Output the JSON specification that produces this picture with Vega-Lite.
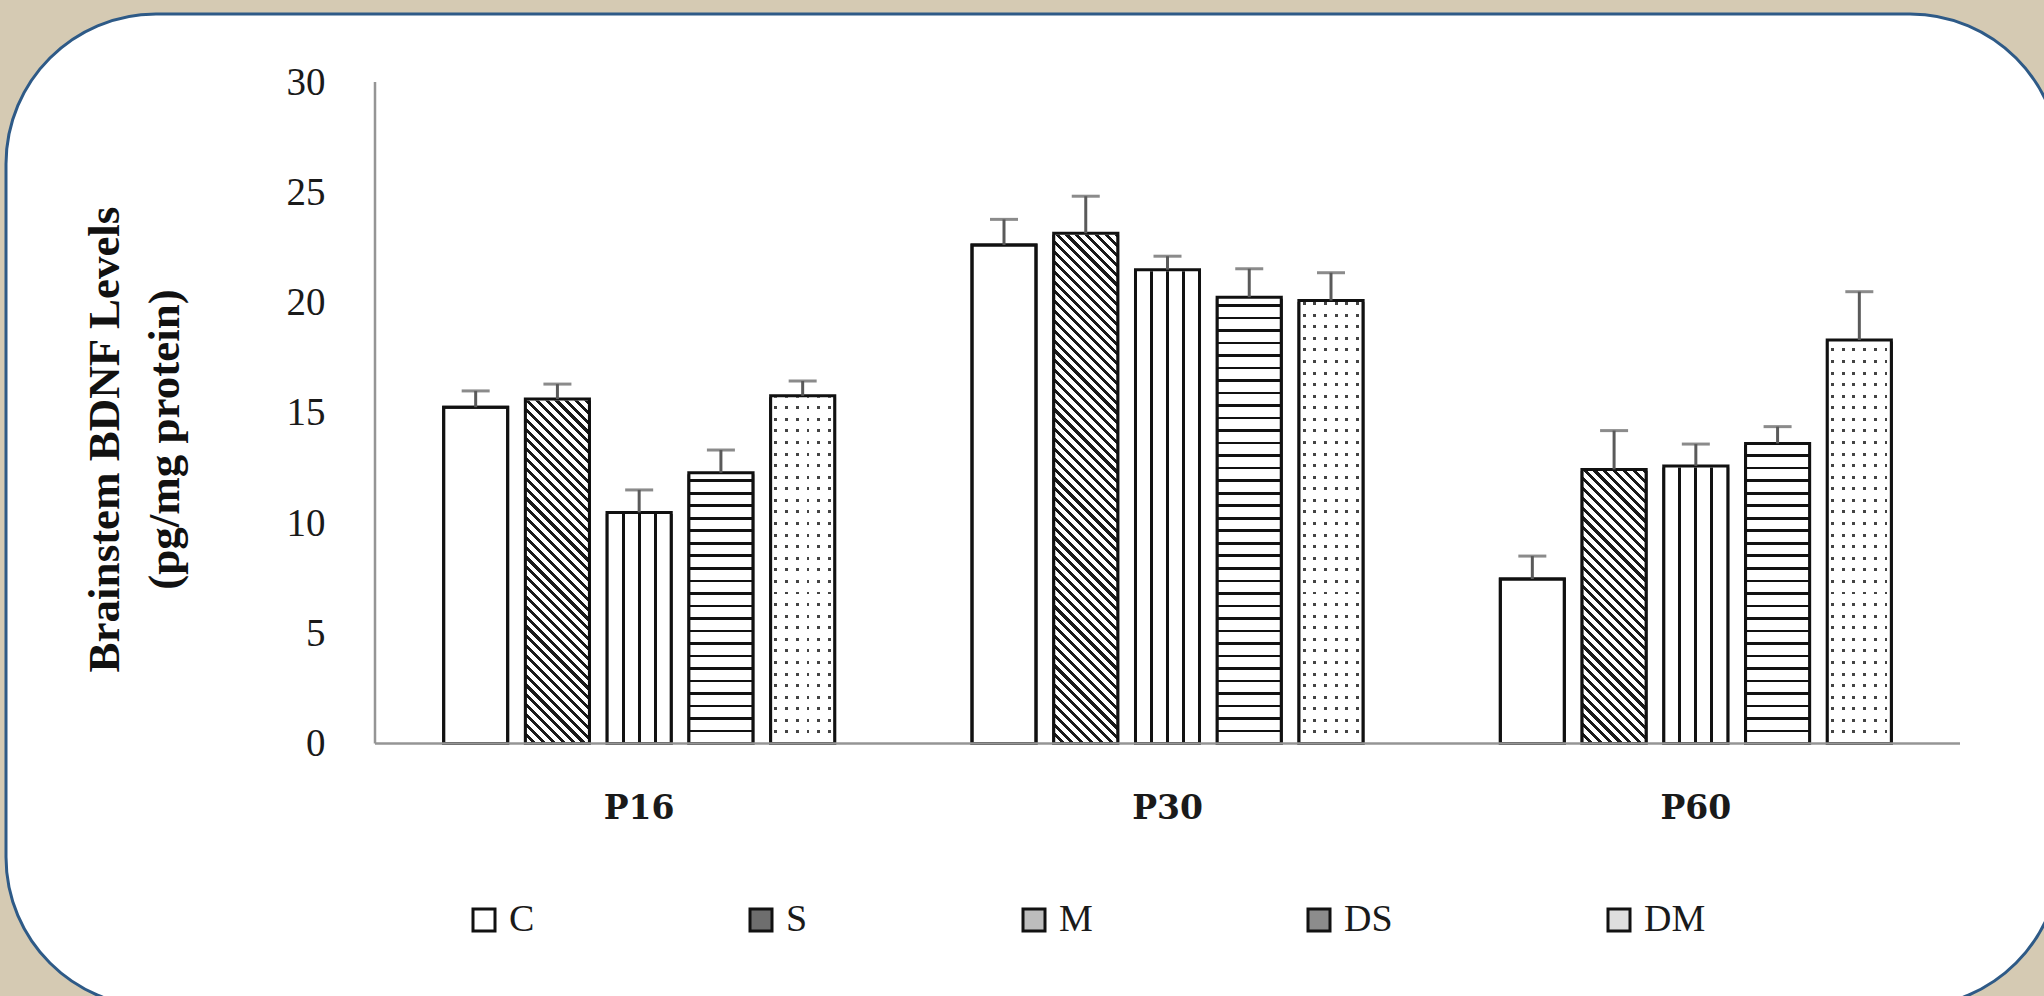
{
  "$schema": "https://vega.github.io/schema/vega-lite/v6.json",
  "width": 2054,
  "height": 993,
  "autosize": {"type": "none"},
  "padding": {"left": 6, "top": 14, "right": -16, "bottom": -11},
  "background": "#d5cab3",
  "config": {
    "view": {"fill": "#ffffff", "stroke": "#2e5a87", "strokeWidth": 3, "cornerRadius": 150},
    "axis": {"grid": false, "ticks": false, "domain": false}
  },
  "data": {"values": [
    {"group": "P16", "series": "C", "value": 15.25, "upper": 15.99},
    {"group": "P16", "series": "S", "value": 15.62, "upper": 16.30},
    {"group": "P16", "series": "M", "value": 10.48, "upper": 11.50},
    {"group": "P16", "series": "DS", "value": 12.28, "upper": 13.31},
    {"group": "P16", "series": "DM", "value": 15.77, "upper": 16.44},
    {"group": "P30", "series": "C", "value": 22.61, "upper": 23.77},
    {"group": "P30", "series": "S", "value": 23.14, "upper": 24.82},
    {"group": "P30", "series": "M", "value": 21.49, "upper": 22.10},
    {"group": "P30", "series": "DS", "value": 20.24, "upper": 21.53},
    {"group": "P30", "series": "DM", "value": 20.09, "upper": 21.35},
    {"group": "P60", "series": "C", "value": 7.46, "upper": 8.50},
    {"group": "P60", "series": "S", "value": 12.43, "upper": 14.19},
    {"group": "P60", "series": "M", "value": 12.59, "upper": 13.58},
    {"group": "P60", "series": "DS", "value": 13.61, "upper": 14.37},
    {"group": "P60", "series": "DM", "value": 18.30, "upper": 20.49}
  ]},
  "layer": [
    {
      "mark": {"type": "bar", "stroke": "#111111", "strokeWidth": 3},
      "encoding": {
        "x": {"field": "group", "type": "nominal",
          "scale": {"paddingInner": 0, "paddingOuter": 0.44385, "align": 0.78678},
          "axis": {"orient": "bottom", "offset": -263.5, "title": null, "labelAngle": 0,
            "labelFont": "DejaVu Serif", "labelFontWeight": "bold", "labelFontSize": 33,
            "labelColor": "#1a1a1a", "labelBaseline": "alphabetic", "labelPadding": 74.5}},
        "xOffset": {"field": "series", "type": "nominal",
          "scale": {"domain": ["C", "S", "M", "DS", "DM"], "paddingInner": 0.217, "paddingOuter": 0.84}},
        "y": {"field": "value", "type": "quantitative",
          "scale": {"domain": [-11.95, 33.084], "nice": false, "zero": false},
          "axis": {"orient": "left", "offset": -369, "values": [0, 5, 10, 15, 20, 25, 30],
            "labelFont": "Liberation Serif", "labelFontSize": 39, "labelColor": "#1a1a1a", "labelPadding": 50,
            "title": ["Brainstem BDNF Levels", "(pg/mg protein)"],
            "titleFont": "Liberation Serif", "titleFontWeight": "bold", "titleFontSize": 45,
            "titleLineHeight": 60, "titleColor": "#111111", "titleX": -257, "titleY": 425,
            "titleAngle": -90, "titleBaseline": "alphabetic", "titleAlign": "center"}},
        "y2": {"datum": 0},
        "fill": {"field": "series", "type": "nominal",
          "scale": {"domain": ["C", "S", "M", "DS", "DM"], "range": ["#ffffff", "#6e6e6e", "#bdbdbd", "#8c8c8c", "#dedede"]},
          "legend": {"orient": "none", "legendX": 459, "legendY": 887, "direction": "horizontal", "columns": 5,
            "title": null, "padding": 0, "symbolType": "square", "symbolSize": 484,
            "symbolStrokeColor": "#111111", "symbolStrokeWidth": 3,
            "labelFont": "Liberation Serif", "labelFontSize": 38, "labelColor": "#1a1a1a",
            "labelOffset": 6, "columnPadding": 207}}
      }
    },
    {
      "transform": [{"filter": "datum.series === 'S'"}],
      "mark": {"type": "bar", "fill": {"gradient": "linear", "x1": 0, "y1": 1, "x2": 0.133, "y2": -0.1, "stops": [
        {"offset":0,"color":"#fff"},
        {"offset":0.0132,"color":"#fff"},{"offset":0.0132,"color":"#1a1a1a"},{"offset":0.0202,"color":"#1a1a1a"},{"offset":0.0202,"color":"#fff"},
        {"offset":0.0298,"color":"#fff"},{"offset":0.0298,"color":"#1a1a1a"},{"offset":0.0368,"color":"#1a1a1a"},{"offset":0.0368,"color":"#fff"},
        {"offset":0.0465,"color":"#fff"},{"offset":0.0465,"color":"#1a1a1a"},{"offset":0.0535,"color":"#1a1a1a"},{"offset":0.0535,"color":"#fff"},
        {"offset":0.0632,"color":"#fff"},{"offset":0.0632,"color":"#1a1a1a"},{"offset":0.0702,"color":"#1a1a1a"},{"offset":0.0702,"color":"#fff"},
        {"offset":0.0798,"color":"#fff"},{"offset":0.0798,"color":"#1a1a1a"},{"offset":0.0868,"color":"#1a1a1a"},{"offset":0.0868,"color":"#fff"},
        {"offset":0.0965,"color":"#fff"},{"offset":0.0965,"color":"#1a1a1a"},{"offset":0.1035,"color":"#1a1a1a"},{"offset":0.1035,"color":"#fff"},
        {"offset":0.1132,"color":"#fff"},{"offset":0.1132,"color":"#1a1a1a"},{"offset":0.1202,"color":"#1a1a1a"},{"offset":0.1202,"color":"#fff"},
        {"offset":0.1298,"color":"#fff"},{"offset":0.1298,"color":"#1a1a1a"},{"offset":0.1368,"color":"#1a1a1a"},{"offset":0.1368,"color":"#fff"},
        {"offset":0.1465,"color":"#fff"},{"offset":0.1465,"color":"#1a1a1a"},{"offset":0.1535,"color":"#1a1a1a"},{"offset":0.1535,"color":"#fff"},
        {"offset":0.1632,"color":"#fff"},{"offset":0.1632,"color":"#1a1a1a"},{"offset":0.1702,"color":"#1a1a1a"},{"offset":0.1702,"color":"#fff"},
        {"offset":0.1798,"color":"#fff"},{"offset":0.1798,"color":"#1a1a1a"},{"offset":0.1868,"color":"#1a1a1a"},{"offset":0.1868,"color":"#fff"},
        {"offset":0.1965,"color":"#fff"},{"offset":0.1965,"color":"#1a1a1a"},{"offset":0.2035,"color":"#1a1a1a"},{"offset":0.2035,"color":"#fff"},
        {"offset":0.2132,"color":"#fff"},{"offset":0.2132,"color":"#1a1a1a"},{"offset":0.2202,"color":"#1a1a1a"},{"offset":0.2202,"color":"#fff"},
        {"offset":0.2298,"color":"#fff"},{"offset":0.2298,"color":"#1a1a1a"},{"offset":0.2368,"color":"#1a1a1a"},{"offset":0.2368,"color":"#fff"},
        {"offset":0.2465,"color":"#fff"},{"offset":0.2465,"color":"#1a1a1a"},{"offset":0.2535,"color":"#1a1a1a"},{"offset":0.2535,"color":"#fff"},
        {"offset":0.2632,"color":"#fff"},{"offset":0.2632,"color":"#1a1a1a"},{"offset":0.2702,"color":"#1a1a1a"},{"offset":0.2702,"color":"#fff"},
        {"offset":0.2798,"color":"#fff"},{"offset":0.2798,"color":"#1a1a1a"},{"offset":0.2868,"color":"#1a1a1a"},{"offset":0.2868,"color":"#fff"},
        {"offset":0.2965,"color":"#fff"},{"offset":0.2965,"color":"#1a1a1a"},{"offset":0.3035,"color":"#1a1a1a"},{"offset":0.3035,"color":"#fff"},
        {"offset":0.3132,"color":"#fff"},{"offset":0.3132,"color":"#1a1a1a"},{"offset":0.3202,"color":"#1a1a1a"},{"offset":0.3202,"color":"#fff"},
        {"offset":0.3298,"color":"#fff"},{"offset":0.3298,"color":"#1a1a1a"},{"offset":0.3368,"color":"#1a1a1a"},{"offset":0.3368,"color":"#fff"},
        {"offset":0.3465,"color":"#fff"},{"offset":0.3465,"color":"#1a1a1a"},{"offset":0.3535,"color":"#1a1a1a"},{"offset":0.3535,"color":"#fff"},
        {"offset":0.3632,"color":"#fff"},{"offset":0.3632,"color":"#1a1a1a"},{"offset":0.3702,"color":"#1a1a1a"},{"offset":0.3702,"color":"#fff"},
        {"offset":0.3798,"color":"#fff"},{"offset":0.3798,"color":"#1a1a1a"},{"offset":0.3868,"color":"#1a1a1a"},{"offset":0.3868,"color":"#fff"},
        {"offset":0.3965,"color":"#fff"},{"offset":0.3965,"color":"#1a1a1a"},{"offset":0.4035,"color":"#1a1a1a"},{"offset":0.4035,"color":"#fff"},
        {"offset":0.4132,"color":"#fff"},{"offset":0.4132,"color":"#1a1a1a"},{"offset":0.4202,"color":"#1a1a1a"},{"offset":0.4202,"color":"#fff"},
        {"offset":0.4298,"color":"#fff"},{"offset":0.4298,"color":"#1a1a1a"},{"offset":0.4368,"color":"#1a1a1a"},{"offset":0.4368,"color":"#fff"},
        {"offset":0.4465,"color":"#fff"},{"offset":0.4465,"color":"#1a1a1a"},{"offset":0.4535,"color":"#1a1a1a"},{"offset":0.4535,"color":"#fff"},
        {"offset":0.4632,"color":"#fff"},{"offset":0.4632,"color":"#1a1a1a"},{"offset":0.4702,"color":"#1a1a1a"},{"offset":0.4702,"color":"#fff"},
        {"offset":0.4798,"color":"#fff"},{"offset":0.4798,"color":"#1a1a1a"},{"offset":0.4868,"color":"#1a1a1a"},{"offset":0.4868,"color":"#fff"},
        {"offset":0.4965,"color":"#fff"},{"offset":0.4965,"color":"#1a1a1a"},{"offset":0.5035,"color":"#1a1a1a"},{"offset":0.5035,"color":"#fff"},
        {"offset":0.5132,"color":"#fff"},{"offset":0.5132,"color":"#1a1a1a"},{"offset":0.5202,"color":"#1a1a1a"},{"offset":0.5202,"color":"#fff"},
        {"offset":0.5298,"color":"#fff"},{"offset":0.5298,"color":"#1a1a1a"},{"offset":0.5368,"color":"#1a1a1a"},{"offset":0.5368,"color":"#fff"},
        {"offset":0.5465,"color":"#fff"},{"offset":0.5465,"color":"#1a1a1a"},{"offset":0.5535,"color":"#1a1a1a"},{"offset":0.5535,"color":"#fff"},
        {"offset":0.5632,"color":"#fff"},{"offset":0.5632,"color":"#1a1a1a"},{"offset":0.5702,"color":"#1a1a1a"},{"offset":0.5702,"color":"#fff"},
        {"offset":0.5798,"color":"#fff"},{"offset":0.5798,"color":"#1a1a1a"},{"offset":0.5868,"color":"#1a1a1a"},{"offset":0.5868,"color":"#fff"},
        {"offset":0.5965,"color":"#fff"},{"offset":0.5965,"color":"#1a1a1a"},{"offset":0.6035,"color":"#1a1a1a"},{"offset":0.6035,"color":"#fff"},
        {"offset":0.6132,"color":"#fff"},{"offset":0.6132,"color":"#1a1a1a"},{"offset":0.6202,"color":"#1a1a1a"},{"offset":0.6202,"color":"#fff"},
        {"offset":0.6298,"color":"#fff"},{"offset":0.6298,"color":"#1a1a1a"},{"offset":0.6368,"color":"#1a1a1a"},{"offset":0.6368,"color":"#fff"},
        {"offset":0.6465,"color":"#fff"},{"offset":0.6465,"color":"#1a1a1a"},{"offset":0.6535,"color":"#1a1a1a"},{"offset":0.6535,"color":"#fff"},
        {"offset":0.6632,"color":"#fff"},{"offset":0.6632,"color":"#1a1a1a"},{"offset":0.6702,"color":"#1a1a1a"},{"offset":0.6702,"color":"#fff"},
        {"offset":0.6798,"color":"#fff"},{"offset":0.6798,"color":"#1a1a1a"},{"offset":0.6868,"color":"#1a1a1a"},{"offset":0.6868,"color":"#fff"},
        {"offset":0.6965,"color":"#fff"},{"offset":0.6965,"color":"#1a1a1a"},{"offset":0.7035,"color":"#1a1a1a"},{"offset":0.7035,"color":"#fff"},
        {"offset":0.7132,"color":"#fff"},{"offset":0.7132,"color":"#1a1a1a"},{"offset":0.7202,"color":"#1a1a1a"},{"offset":0.7202,"color":"#fff"},
        {"offset":0.7298,"color":"#fff"},{"offset":0.7298,"color":"#1a1a1a"},{"offset":0.7368,"color":"#1a1a1a"},{"offset":0.7368,"color":"#fff"},
        {"offset":0.7465,"color":"#fff"},{"offset":0.7465,"color":"#1a1a1a"},{"offset":0.7535,"color":"#1a1a1a"},{"offset":0.7535,"color":"#fff"},
        {"offset":0.7632,"color":"#fff"},{"offset":0.7632,"color":"#1a1a1a"},{"offset":0.7702,"color":"#1a1a1a"},{"offset":0.7702,"color":"#fff"},
        {"offset":0.7798,"color":"#fff"},{"offset":0.7798,"color":"#1a1a1a"},{"offset":0.7868,"color":"#1a1a1a"},{"offset":0.7868,"color":"#fff"},
        {"offset":0.7965,"color":"#fff"},{"offset":0.7965,"color":"#1a1a1a"},{"offset":0.8035,"color":"#1a1a1a"},{"offset":0.8035,"color":"#fff"},
        {"offset":0.8132,"color":"#fff"},{"offset":0.8132,"color":"#1a1a1a"},{"offset":0.8202,"color":"#1a1a1a"},{"offset":0.8202,"color":"#fff"},
        {"offset":0.8298,"color":"#fff"},{"offset":0.8298,"color":"#1a1a1a"},{"offset":0.8368,"color":"#1a1a1a"},{"offset":0.8368,"color":"#fff"},
        {"offset":0.8465,"color":"#fff"},{"offset":0.8465,"color":"#1a1a1a"},{"offset":0.8535,"color":"#1a1a1a"},{"offset":0.8535,"color":"#fff"},
        {"offset":0.8632,"color":"#fff"},{"offset":0.8632,"color":"#1a1a1a"},{"offset":0.8702,"color":"#1a1a1a"},{"offset":0.8702,"color":"#fff"},
        {"offset":0.8798,"color":"#fff"},{"offset":0.8798,"color":"#1a1a1a"},{"offset":0.8868,"color":"#1a1a1a"},{"offset":0.8868,"color":"#fff"},
        {"offset":0.8965,"color":"#fff"},{"offset":0.8965,"color":"#1a1a1a"},{"offset":0.9035,"color":"#1a1a1a"},{"offset":0.9035,"color":"#fff"},
        {"offset":0.9132,"color":"#fff"},{"offset":0.9132,"color":"#1a1a1a"},{"offset":0.9202,"color":"#1a1a1a"},{"offset":0.9202,"color":"#fff"},
        {"offset":0.9298,"color":"#fff"},{"offset":0.9298,"color":"#1a1a1a"},{"offset":0.9368,"color":"#1a1a1a"},{"offset":0.9368,"color":"#fff"},
        {"offset":0.9465,"color":"#fff"},{"offset":0.9465,"color":"#1a1a1a"},{"offset":0.9535,"color":"#1a1a1a"},{"offset":0.9535,"color":"#fff"},
        {"offset":0.9632,"color":"#fff"},{"offset":0.9632,"color":"#1a1a1a"},{"offset":0.9702,"color":"#1a1a1a"},{"offset":0.9702,"color":"#fff"},
        {"offset":0.9798,"color":"#fff"},{"offset":0.9798,"color":"#1a1a1a"},{"offset":0.9868,"color":"#1a1a1a"},{"offset":0.9868,"color":"#fff"},
        {"offset":1,"color":"#fff"}
      ]}},
      "encoding": {
        "x": {"field": "group", "type": "nominal"},
        "xOffset": {"field": "series", "type": "nominal", "scale": {"domain": ["C", "S", "M", "DS", "DM"]}},
        "y": {"datum": 24, "type": "quantitative"},
        "y2": {"datum": 0}
      }
    },
    {
      "transform": [{"filter": "datum.series === 'M'"}],
      "mark": {"type": "bar", "fill": {"gradient": "linear", "x1": 0, "y1": 0, "x2": 1, "y2": 0, "stops": [
        {"offset":0,"color":"#fff"},
        {"offset":0.228,"color":"#fff"},{"offset":0.228,"color":"#111"},{"offset":0.272,"color":"#111"},{"offset":0.272,"color":"#fff"},
        {"offset":0.478,"color":"#fff"},{"offset":0.478,"color":"#111"},{"offset":0.522,"color":"#111"},{"offset":0.522,"color":"#fff"},
        {"offset":0.728,"color":"#fff"},{"offset":0.728,"color":"#111"},{"offset":0.772,"color":"#111"},{"offset":0.772,"color":"#fff"},
        {"offset":1,"color":"#fff"}
      ]}},
      "encoding": {
        "x": {"field": "group", "type": "nominal"},
        "xOffset": {"field": "series", "type": "nominal", "scale": {"domain": ["C", "S", "M", "DS", "DM"]}},
        "y": {"datum": 24, "type": "quantitative"},
        "y2": {"datum": 0}
      }
    },
    {
      "transform": [{"filter": "datum.series === 'DS'"}],
      "mark": {"type": "bar", "fill": {"gradient": "linear", "x1": 0, "y1": 0, "x2": 0, "y2": 1, "stops": [
        {"offset":0,"color":"#fff"},
        {"offset":0.0242,"color":"#fff"},{"offset":0.0242,"color":"#111"},{"offset":0.0298,"color":"#111"},{"offset":0.0298,"color":"#fff"},
        {"offset":0.0513,"color":"#fff"},{"offset":0.0513,"color":"#111"},{"offset":0.0569,"color":"#111"},{"offset":0.0569,"color":"#fff"},
        {"offset":0.0783,"color":"#fff"},{"offset":0.0783,"color":"#111"},{"offset":0.0839,"color":"#111"},{"offset":0.0839,"color":"#fff"},
        {"offset":0.1053,"color":"#fff"},{"offset":0.1053,"color":"#111"},{"offset":0.1109,"color":"#111"},{"offset":0.1109,"color":"#fff"},
        {"offset":0.1323,"color":"#fff"},{"offset":0.1323,"color":"#111"},{"offset":0.1379,"color":"#111"},{"offset":0.1379,"color":"#fff"},
        {"offset":0.1594,"color":"#fff"},{"offset":0.1594,"color":"#111"},{"offset":0.1650,"color":"#111"},{"offset":0.1650,"color":"#fff"},
        {"offset":0.1864,"color":"#fff"},{"offset":0.1864,"color":"#111"},{"offset":0.1920,"color":"#111"},{"offset":0.1920,"color":"#fff"},
        {"offset":0.2134,"color":"#fff"},{"offset":0.2134,"color":"#111"},{"offset":0.2190,"color":"#111"},{"offset":0.2190,"color":"#fff"},
        {"offset":0.2404,"color":"#fff"},{"offset":0.2404,"color":"#111"},{"offset":0.2460,"color":"#111"},{"offset":0.2460,"color":"#fff"},
        {"offset":0.2675,"color":"#fff"},{"offset":0.2675,"color":"#111"},{"offset":0.2731,"color":"#111"},{"offset":0.2731,"color":"#fff"},
        {"offset":0.2945,"color":"#fff"},{"offset":0.2945,"color":"#111"},{"offset":0.3001,"color":"#111"},{"offset":0.3001,"color":"#fff"},
        {"offset":0.3215,"color":"#fff"},{"offset":0.3215,"color":"#111"},{"offset":0.3271,"color":"#111"},{"offset":0.3271,"color":"#fff"},
        {"offset":0.3486,"color":"#fff"},{"offset":0.3486,"color":"#111"},{"offset":0.3542,"color":"#111"},{"offset":0.3542,"color":"#fff"},
        {"offset":0.3756,"color":"#fff"},{"offset":0.3756,"color":"#111"},{"offset":0.3812,"color":"#111"},{"offset":0.3812,"color":"#fff"},
        {"offset":0.4026,"color":"#fff"},{"offset":0.4026,"color":"#111"},{"offset":0.4082,"color":"#111"},{"offset":0.4082,"color":"#fff"},
        {"offset":0.4296,"color":"#fff"},{"offset":0.4296,"color":"#111"},{"offset":0.4352,"color":"#111"},{"offset":0.4352,"color":"#fff"},
        {"offset":0.4567,"color":"#fff"},{"offset":0.4567,"color":"#111"},{"offset":0.4623,"color":"#111"},{"offset":0.4623,"color":"#fff"},
        {"offset":0.4837,"color":"#fff"},{"offset":0.4837,"color":"#111"},{"offset":0.4893,"color":"#111"},{"offset":0.4893,"color":"#fff"},
        {"offset":0.5107,"color":"#fff"},{"offset":0.5107,"color":"#111"},{"offset":0.5163,"color":"#111"},{"offset":0.5163,"color":"#fff"},
        {"offset":0.5377,"color":"#fff"},{"offset":0.5377,"color":"#111"},{"offset":0.5433,"color":"#111"},{"offset":0.5433,"color":"#fff"},
        {"offset":0.5648,"color":"#fff"},{"offset":0.5648,"color":"#111"},{"offset":0.5704,"color":"#111"},{"offset":0.5704,"color":"#fff"},
        {"offset":0.5918,"color":"#fff"},{"offset":0.5918,"color":"#111"},{"offset":0.5974,"color":"#111"},{"offset":0.5974,"color":"#fff"},
        {"offset":0.6188,"color":"#fff"},{"offset":0.6188,"color":"#111"},{"offset":0.6244,"color":"#111"},{"offset":0.6244,"color":"#fff"},
        {"offset":0.6459,"color":"#fff"},{"offset":0.6459,"color":"#111"},{"offset":0.6515,"color":"#111"},{"offset":0.6515,"color":"#fff"},
        {"offset":0.6729,"color":"#fff"},{"offset":0.6729,"color":"#111"},{"offset":0.6785,"color":"#111"},{"offset":0.6785,"color":"#fff"},
        {"offset":0.6999,"color":"#fff"},{"offset":0.6999,"color":"#111"},{"offset":0.7055,"color":"#111"},{"offset":0.7055,"color":"#fff"},
        {"offset":0.7269,"color":"#fff"},{"offset":0.7269,"color":"#111"},{"offset":0.7325,"color":"#111"},{"offset":0.7325,"color":"#fff"},
        {"offset":0.7540,"color":"#fff"},{"offset":0.7540,"color":"#111"},{"offset":0.7596,"color":"#111"},{"offset":0.7596,"color":"#fff"},
        {"offset":0.7810,"color":"#fff"},{"offset":0.7810,"color":"#111"},{"offset":0.7866,"color":"#111"},{"offset":0.7866,"color":"#fff"},
        {"offset":0.8080,"color":"#fff"},{"offset":0.8080,"color":"#111"},{"offset":0.8136,"color":"#111"},{"offset":0.8136,"color":"#fff"},
        {"offset":0.8350,"color":"#fff"},{"offset":0.8350,"color":"#111"},{"offset":0.8406,"color":"#111"},{"offset":0.8406,"color":"#fff"},
        {"offset":0.8621,"color":"#fff"},{"offset":0.8621,"color":"#111"},{"offset":0.8677,"color":"#111"},{"offset":0.8677,"color":"#fff"},
        {"offset":0.8891,"color":"#fff"},{"offset":0.8891,"color":"#111"},{"offset":0.8947,"color":"#111"},{"offset":0.8947,"color":"#fff"},
        {"offset":0.9161,"color":"#fff"},{"offset":0.9161,"color":"#111"},{"offset":0.9217,"color":"#111"},{"offset":0.9217,"color":"#fff"},
        {"offset":0.9432,"color":"#fff"},{"offset":0.9432,"color":"#111"},{"offset":0.9488,"color":"#111"},{"offset":0.9488,"color":"#fff"},
        {"offset":0.9702,"color":"#fff"},{"offset":0.9702,"color":"#111"},{"offset":0.9758,"color":"#111"},{"offset":0.9758,"color":"#fff"},
        {"offset":1,"color":"#fff"}
      ]}},
      "encoding": {
        "x": {"field": "group", "type": "nominal"},
        "xOffset": {"field": "series", "type": "nominal", "scale": {"domain": ["C", "S", "M", "DS", "DM"]}},
        "y": {"datum": 21, "type": "quantitative"},
        "y2": {"datum": 0}
      }
    },
    {
      "transform": [{"filter": "datum.series === 'DM'"}],
      "mark": {"type": "bar", "fill": {"gradient": "linear", "x1": 0, "y1": 0, "x2": 0, "y2": 1, "stops": [
        {"offset":0,"color":"#fff"},
        {"offset":0.0218,"color":"#fff"},{"offset":0.0218,"color":"#444"},{"offset":0.0282,"color":"#444"},{"offset":0.0282,"color":"#fff"},
        {"offset":0.0468,"color":"#fff"},{"offset":0.0468,"color":"#444"},{"offset":0.0532,"color":"#444"},{"offset":0.0532,"color":"#fff"},
        {"offset":0.0718,"color":"#fff"},{"offset":0.0718,"color":"#444"},{"offset":0.0782,"color":"#444"},{"offset":0.0782,"color":"#fff"},
        {"offset":0.0968,"color":"#fff"},{"offset":0.0968,"color":"#444"},{"offset":0.1032,"color":"#444"},{"offset":0.1032,"color":"#fff"},
        {"offset":0.1218,"color":"#fff"},{"offset":0.1218,"color":"#444"},{"offset":0.1282,"color":"#444"},{"offset":0.1282,"color":"#fff"},
        {"offset":0.1468,"color":"#fff"},{"offset":0.1468,"color":"#444"},{"offset":0.1532,"color":"#444"},{"offset":0.1532,"color":"#fff"},
        {"offset":0.1718,"color":"#fff"},{"offset":0.1718,"color":"#444"},{"offset":0.1782,"color":"#444"},{"offset":0.1782,"color":"#fff"},
        {"offset":0.1968,"color":"#fff"},{"offset":0.1968,"color":"#444"},{"offset":0.2032,"color":"#444"},{"offset":0.2032,"color":"#fff"},
        {"offset":0.2218,"color":"#fff"},{"offset":0.2218,"color":"#444"},{"offset":0.2282,"color":"#444"},{"offset":0.2282,"color":"#fff"},
        {"offset":0.2468,"color":"#fff"},{"offset":0.2468,"color":"#444"},{"offset":0.2532,"color":"#444"},{"offset":0.2532,"color":"#fff"},
        {"offset":0.2718,"color":"#fff"},{"offset":0.2718,"color":"#444"},{"offset":0.2782,"color":"#444"},{"offset":0.2782,"color":"#fff"},
        {"offset":0.2968,"color":"#fff"},{"offset":0.2968,"color":"#444"},{"offset":0.3032,"color":"#444"},{"offset":0.3032,"color":"#fff"},
        {"offset":0.3218,"color":"#fff"},{"offset":0.3218,"color":"#444"},{"offset":0.3282,"color":"#444"},{"offset":0.3282,"color":"#fff"},
        {"offset":0.3468,"color":"#fff"},{"offset":0.3468,"color":"#444"},{"offset":0.3532,"color":"#444"},{"offset":0.3532,"color":"#fff"},
        {"offset":0.3718,"color":"#fff"},{"offset":0.3718,"color":"#444"},{"offset":0.3782,"color":"#444"},{"offset":0.3782,"color":"#fff"},
        {"offset":0.3968,"color":"#fff"},{"offset":0.3968,"color":"#444"},{"offset":0.4032,"color":"#444"},{"offset":0.4032,"color":"#fff"},
        {"offset":0.4218,"color":"#fff"},{"offset":0.4218,"color":"#444"},{"offset":0.4282,"color":"#444"},{"offset":0.4282,"color":"#fff"},
        {"offset":0.4468,"color":"#fff"},{"offset":0.4468,"color":"#444"},{"offset":0.4532,"color":"#444"},{"offset":0.4532,"color":"#fff"},
        {"offset":0.4718,"color":"#fff"},{"offset":0.4718,"color":"#444"},{"offset":0.4782,"color":"#444"},{"offset":0.4782,"color":"#fff"},
        {"offset":0.4968,"color":"#fff"},{"offset":0.4968,"color":"#444"},{"offset":0.5032,"color":"#444"},{"offset":0.5032,"color":"#fff"},
        {"offset":0.5218,"color":"#fff"},{"offset":0.5218,"color":"#444"},{"offset":0.5282,"color":"#444"},{"offset":0.5282,"color":"#fff"},
        {"offset":0.5468,"color":"#fff"},{"offset":0.5468,"color":"#444"},{"offset":0.5532,"color":"#444"},{"offset":0.5532,"color":"#fff"},
        {"offset":0.5718,"color":"#fff"},{"offset":0.5718,"color":"#444"},{"offset":0.5782,"color":"#444"},{"offset":0.5782,"color":"#fff"},
        {"offset":0.5968,"color":"#fff"},{"offset":0.5968,"color":"#444"},{"offset":0.6032,"color":"#444"},{"offset":0.6032,"color":"#fff"},
        {"offset":0.6218,"color":"#fff"},{"offset":0.6218,"color":"#444"},{"offset":0.6282,"color":"#444"},{"offset":0.6282,"color":"#fff"},
        {"offset":0.6468,"color":"#fff"},{"offset":0.6468,"color":"#444"},{"offset":0.6532,"color":"#444"},{"offset":0.6532,"color":"#fff"},
        {"offset":0.6718,"color":"#fff"},{"offset":0.6718,"color":"#444"},{"offset":0.6782,"color":"#444"},{"offset":0.6782,"color":"#fff"},
        {"offset":0.6968,"color":"#fff"},{"offset":0.6968,"color":"#444"},{"offset":0.7032,"color":"#444"},{"offset":0.7032,"color":"#fff"},
        {"offset":0.7218,"color":"#fff"},{"offset":0.7218,"color":"#444"},{"offset":0.7282,"color":"#444"},{"offset":0.7282,"color":"#fff"},
        {"offset":0.7468,"color":"#fff"},{"offset":0.7468,"color":"#444"},{"offset":0.7532,"color":"#444"},{"offset":0.7532,"color":"#fff"},
        {"offset":0.7718,"color":"#fff"},{"offset":0.7718,"color":"#444"},{"offset":0.7782,"color":"#444"},{"offset":0.7782,"color":"#fff"},
        {"offset":0.7968,"color":"#fff"},{"offset":0.7968,"color":"#444"},{"offset":0.8032,"color":"#444"},{"offset":0.8032,"color":"#fff"},
        {"offset":0.8218,"color":"#fff"},{"offset":0.8218,"color":"#444"},{"offset":0.8282,"color":"#444"},{"offset":0.8282,"color":"#fff"},
        {"offset":0.8468,"color":"#fff"},{"offset":0.8468,"color":"#444"},{"offset":0.8532,"color":"#444"},{"offset":0.8532,"color":"#fff"},
        {"offset":0.8718,"color":"#fff"},{"offset":0.8718,"color":"#444"},{"offset":0.8782,"color":"#444"},{"offset":0.8782,"color":"#fff"},
        {"offset":0.8968,"color":"#fff"},{"offset":0.8968,"color":"#444"},{"offset":0.9032,"color":"#444"},{"offset":0.9032,"color":"#fff"},
        {"offset":0.9218,"color":"#fff"},{"offset":0.9218,"color":"#444"},{"offset":0.9282,"color":"#444"},{"offset":0.9282,"color":"#fff"},
        {"offset":0.9468,"color":"#fff"},{"offset":0.9468,"color":"#444"},{"offset":0.9532,"color":"#444"},{"offset":0.9532,"color":"#fff"},
        {"offset":0.9718,"color":"#fff"},{"offset":0.9718,"color":"#444"},{"offset":0.9782,"color":"#444"},{"offset":0.9782,"color":"#fff"},
        {"offset":1,"color":"#fff"}
      ]}},
      "encoding": {
        "x": {"field": "group", "type": "nominal"},
        "xOffset": {"field": "series", "type": "nominal", "scale": {"domain": ["C", "S", "M", "DS", "DM"]}},
        "y": {"datum": 21, "type": "quantitative"},
        "y2": {"datum": 0}
      }
    },
    {
      "transform": [{"filter": "datum.series === 'DM'"}],
      "mark": {"type": "bar", "fill": {"gradient": "linear", "x1": 0, "y1": 0, "x2": 1, "y2": 0, "stops": [
        {"offset":0,"color":"#fff"},
        {"offset":0.06,"color":"#fff"},{"offset":0.06,"color":"rgba(255,255,255,0)"},{"offset":0.1067,"color":"rgba(255,255,255,0)"},{"offset":0.1067,"color":"#fff"},
        {"offset":0.2266,"color":"#fff"},{"offset":0.2266,"color":"rgba(255,255,255,0)"},{"offset":0.2734,"color":"rgba(255,255,255,0)"},{"offset":0.2734,"color":"#fff"},
        {"offset":0.3933,"color":"#fff"},{"offset":0.3933,"color":"rgba(255,255,255,0)"},{"offset":0.44,"color":"rgba(255,255,255,0)"},{"offset":0.44,"color":"#fff"},
        {"offset":0.56,"color":"#fff"},{"offset":0.56,"color":"rgba(255,255,255,0)"},{"offset":0.6067,"color":"rgba(255,255,255,0)"},{"offset":0.6067,"color":"#fff"},
        {"offset":0.7266,"color":"#fff"},{"offset":0.7266,"color":"rgba(255,255,255,0)"},{"offset":0.7734,"color":"rgba(255,255,255,0)"},{"offset":0.7734,"color":"#fff"},
        {"offset":0.8933,"color":"#fff"},{"offset":0.8933,"color":"rgba(255,255,255,0)"},{"offset":0.94,"color":"rgba(255,255,255,0)"},{"offset":0.94,"color":"#fff"},
        {"offset":1,"color":"#fff"}
      ]}},
      "encoding": {
        "x": {"field": "group", "type": "nominal"},
        "xOffset": {"field": "series", "type": "nominal", "scale": {"domain": ["C", "S", "M", "DS", "DM"]}},
        "y": {"datum": 21, "type": "quantitative"},
        "y2": {"datum": 0}
      }
    },
    {
      "transform": [{"filter": "datum.series !== 'C'"}],
      "mark": {"type": "bar", "fill": "#ffffff", "stroke": "#ffffff", "strokeWidth": 3},
      "encoding": {
        "x": {"field": "group", "type": "nominal"},
        "xOffset": {"field": "series", "type": "nominal", "scale": {"domain": ["C", "S", "M", "DS", "DM"]}},
        "y": {"field": "value", "type": "quantitative"},
        "y2": {"datum": 24.5}
      }
    },
    {
      "mark": {"type": "bar", "fillOpacity": 0, "stroke": "#111111", "strokeWidth": 3},
      "encoding": {
        "x": {"field": "group", "type": "nominal"},
        "xOffset": {"field": "series", "type": "nominal", "scale": {"domain": ["C", "S", "M", "DS", "DM"]}},
        "y": {"field": "value", "type": "quantitative"},
        "y2": {"datum": 0}
      }
    },
    {
      "mark": {"type": "rule", "color": "#5a5a5a", "strokeWidth": 3},
      "encoding": {
        "x": {"field": "group", "type": "nominal"},
        "xOffset": {"field": "series", "type": "nominal", "scale": {"domain": ["C", "S", "M", "DS", "DM"]}},
        "y": {"field": "value", "type": "quantitative"},
        "y2": {"field": "upper"}
      }
    },
    {
      "mark": {"type": "tick", "color": "#5a5a5a", "size": 28, "thickness": 3},
      "encoding": {
        "x": {"field": "group", "type": "nominal"},
        "xOffset": {"field": "series", "type": "nominal", "scale": {"domain": ["C", "S", "M", "DS", "DM"]}},
        "y": {"field": "upper", "type": "quantitative"}
      }
    },
    {
      "data": {"values": [{}]},
      "mark": {"type": "rule", "color": "#959595", "strokeWidth": 2.5},
      "encoding": {
        "x": {"datum": "P16", "type": "nominal", "bandPosition": 0},
        "y": {"datum": 0, "type": "quantitative"},
        "y2": {"datum": 30}
      }
    },
    {
      "data": {"values": [{}]},
      "mark": {"type": "rule", "color": "#959595", "strokeWidth": 2.5},
      "encoding": {
        "x": {"datum": "P16", "type": "nominal", "bandPosition": 0},
        "x2": {"datum": "P60", "bandPosition": 1},
        "y": {"datum": 0, "type": "quantitative"}
      }
    }
  ]
}
